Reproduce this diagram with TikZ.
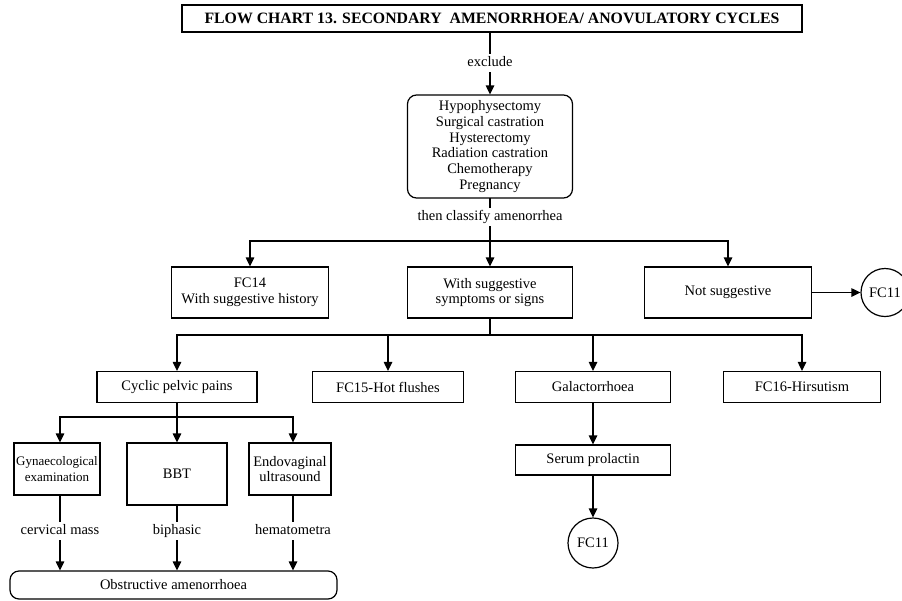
\documentclass[tikz,border=0pt]{standalone}
\usepackage{fontspec}
\setmainfont{Liberation Serif}
\usetikzlibrary{arrows.meta}
\begin{document}
\begin{tikzpicture}[x=1pt,y=-1pt,
  every node/.style={font=\fontsize{14.5}{15.8}\selectfont},
  box/.style={draw, line width=1.2pt, align=center, inner sep=1pt},
  rbox/.style={box, rounded corners=9pt},
  circ/.style={draw, circle, line width=1.2pt, minimum size=48pt, inner sep=0pt},
  lbl/.style={inner sep=0pt, text height=10pt, text depth=3pt, minimum height=18pt},
  conn/.style={line width=1.2pt, line cap=rect},
  arr/.style={line width=1.2pt, -{Triangle[length=9pt,width=8.5pt]}},
]
\useasboundingbox (0,0) rectangle (902,600);

% heading
\node[box, minimum width=620pt, minimum height=27pt,
      font=\bfseries\fontsize{15.8}{17}\selectfont] (title) at (492,18.5)
  {FLOW CHART 13. SECONDARY\ \ AMENORRHOEA/ ANOVULATORY CYCLES};
\node[lbl] (excl) at (490,63) {exclude};

% conditions to exclude
\node[rbox, minimum width=165pt, minimum height=103pt] (rb) at (490,146.5)
  {Hypophysectomy\\Surgical castration\\Hysterectomy\\Radiation castration\\Chemotherapy\\Pregnancy};
\node[lbl] (cls) at (490,217) {then classify amenorrhea};

% classification
\node[box, minimum width=157pt, minimum height=51pt] (fc14) at (250,292.5)
  {FC14\\With suggestive history};
\node[box, minimum width=165pt, minimum height=51pt] (mid) at (490,292.5)
  {With suggestive\\symptoms or signs};
\node[box, minimum width=167pt, minimum height=51pt] (ns) at (728,292.5)
  {Not suggestive};
\node[circ] (fca) at (885,292.5) {FC11};

% symptoms and signs
\node[box, minimum width=160pt, minimum height=31pt] (cyc) at (177,387) {Cyclic pelvic pains};
\node[box, minimum width=151pt, minimum height=31pt] (fc15) at (388,387) {FC15-Hot flushes};
\node[box, minimum width=155pt, minimum height=31pt] (gal) at (593,387) {Galactorrhoea};
\node[box, minimum width=157pt, minimum height=31pt] (fc16) at (802,387) {FC16-Hirsutism};
\node[box, minimum width=155pt, minimum height=30pt] (ser) at (593,460) {Serum prolactin};
\node[circ, minimum size=50pt] (fcb) at (593,543) {FC11};

% work-up of cyclic pelvic pains
\node[box, minimum width=86pt, minimum height=52pt, inner sep=0pt,
      font=\fontsize{13}{15.5}\selectfont] (gyn) at (57,469)
  {Gynaecological\\examination};
\node[box, minimum width=100pt, minimum height=62pt] (bbt) at (177,474) {BBT};
\node[box, minimum width=82pt, minimum height=52pt] (endo) at (290,469)
  {Endovaginal\\ultrasound};
\node[lbl] (cerv) at (60,531) {cervical mass};
\node[lbl] (biph) at (177,531) {biphasic};
\node[lbl] (hema) at (293,531) {hematometra};
\node[rbox, minimum width=327pt, minimum height=28pt] (obst) at (173.5,585)
  {Obstructive amenorrhoea};

% junction points of the branching lines
\coordinate (j1) at (490,241);
\coordinate (j2) at (490,335);
\coordinate (j3) at (177,417);

% connectors
\draw[conn] (title.south -| excl) -- (excl.north);
\draw[arr] (excl.south) -- (rb.north);
\draw[conn] (rb.south) -- (cls.north);
\draw[conn] (cls.south) -- (j1);
\draw[arr] (j1) -| (fc14);
\draw[arr] (j1) -- (mid);
\draw[arr] (j1) -| (ns);
\draw[arr] (ns) -- (fca);

\draw[conn] (mid.south) -- (j2);
\draw[arr] (j2) -| (cyc);
\draw[arr] (j2) -| (fc15);
\draw[arr] (j2) -| (gal);
\draw[arr] (j2) -| (fc16);
\draw[arr] (gal) -- (ser);
\draw[arr] (ser) -- (fcb);

\draw[conn] (cyc.south) -- (j3);
\draw[arr] (j3) -| (gyn.north -| cerv);
\draw[arr] (j3) -- (bbt);
\draw[arr] (j3) -| (endo.north -| hema);

\draw[conn] (gyn.south -| cerv) -- (cerv.north);
\draw[conn] (bbt.south) -- (biph.north);
\draw[conn] (endo.south -| hema) -- (hema.north);
\draw[arr] (cerv.south) -- (cerv.south |- obst.north);
\draw[arr] (biph.south) -- (biph.south |- obst.north);
\draw[arr] (hema.south) -- (hema.south |- obst.north);
\end{tikzpicture}
\end{document}
